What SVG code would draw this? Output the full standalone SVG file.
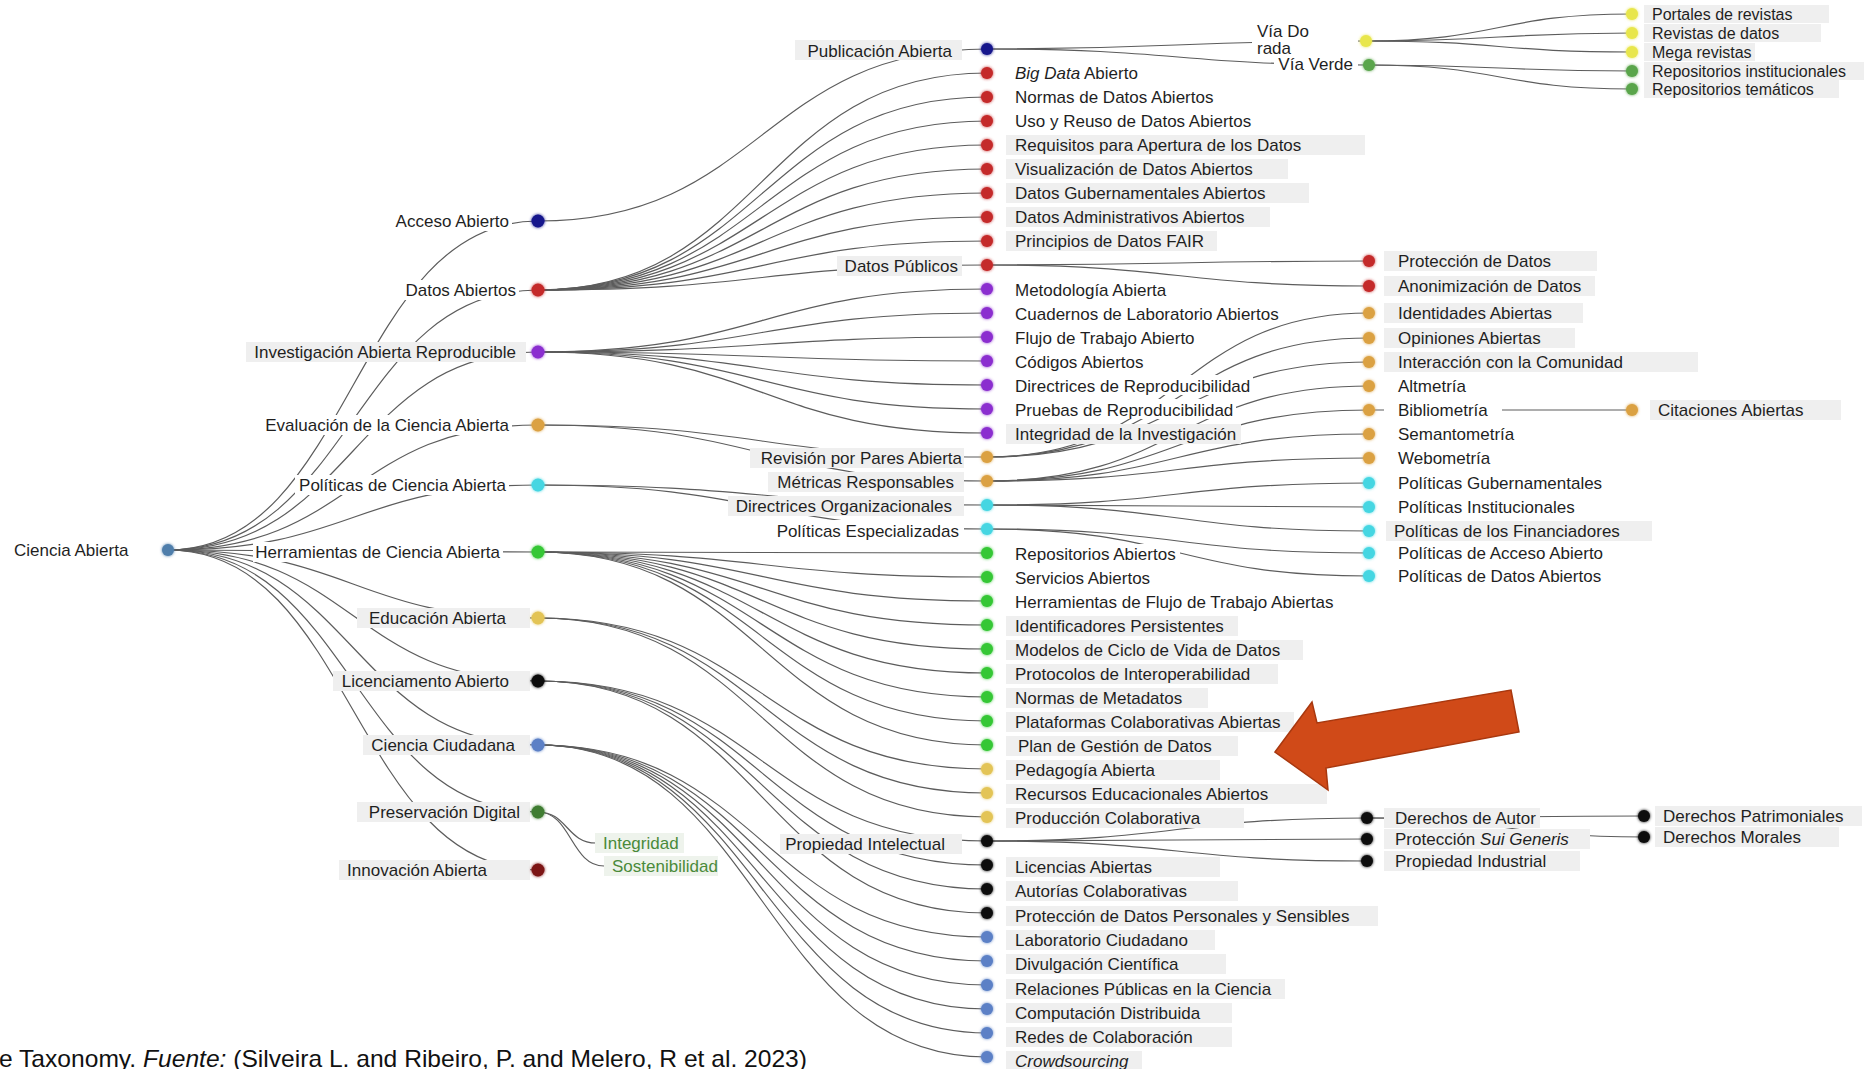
<svg xmlns="http://www.w3.org/2000/svg" width="1866" height="1069" viewBox="0 0 1866 1069">
<style>
  .lk{fill:none;stroke:#5c5c5c;stroke-width:1.2}
  .t{font-family:"Liberation Sans",Arial,Helvetica,sans-serif;font-size:17px;fill:#1f1f1f}
  .s{font-size:16px}
  .e{text-anchor:end}
  .g{fill:#4a8a3a}
  .bg{fill:#ffffff}
  .gb{fill:#efefef}
  .gg{fill:#eef3ec}
  .d{filter:url(#glow)}
  .c0{fill:#4f7eab}.cn{fill:#15168c}.cr{fill:#c42a2a}.cp{fill:#8b2fcf}.co{fill:#dba142}
  .cc{fill:#45d6e2}.cg{fill:#35c735}.cy{fill:#e3c457}.ck{fill:#0c0c0c}.cb{fill:#5b80c6}
  .cd{fill:#3f7d31}.cm{fill:#7d1515}.cv{fill:#e8e64c}.cw{fill:#5aa54c}
  .cap{font-family:"Liberation Sans",Arial,sans-serif;font-size:24px;fill:#111}
</style>
<defs>
  <filter id="glow" x="-100%" y="-100%" width="300%" height="300%">
    <feGaussianBlur in="SourceGraphic" stdDeviation="1.8" result="b"/>
    <feMerge><feMergeNode in="b"/><feMergeNode in="SourceGraphic"/></feMerge>
  </filter>
</defs>
<rect width="1866" height="1069" fill="#ffffff"/>

<!-- connectors -->
<g id="links" class="lk">
  <!-- root to first level -->
  <path d="M168,550 C353,550 353,221 538,221"/>
  <path d="M168,550 C353,550 353,290 538,290"/>
  <path d="M168,550 C353,550 353,352 538,352"/>
  <path d="M168,550 C353,550 353,425 538,425"/>
  <path d="M168,550 C353,550 353,485 538,485"/>
  <path d="M168,550 C353,550 353,552 538,552"/>
  <path d="M168,550 C353,550 353,618 538,618"/>
  <path d="M168,550 C353,550 353,681 538,681"/>
  <path d="M168,550 C353,550 353,745 538,745"/>
  <path d="M168,550 C353,550 353,812 538,812"/>
  <path d="M168,550 C353,550 353,870 538,870"/>
  <!-- first to second level -->
  <path d="M538,221 C762,221 762,49 987,49"/>
  <path d="M538,290 C762,290 762,73 987,73"/>
  <path d="M538,290 C762,290 762,97 987,97"/>
  <path d="M538,290 C762,290 762,121 987,121"/>
  <path d="M538,290 C762,290 762,145 987,145"/>
  <path d="M538,290 C762,290 762,169 987,169"/>
  <path d="M538,290 C762,290 762,193 987,193"/>
  <path d="M538,290 C762,290 762,217 987,217"/>
  <path d="M538,290 C762,290 762,241 987,241"/>
  <path d="M538,290 C762,290 762,265 987,265"/>
  <path d="M538,352 C762,352 762,289 987,289"/>
  <path d="M538,352 C762,352 762,313 987,313"/>
  <path d="M538,352 C762,352 762,337 987,337"/>
  <path d="M538,352 C762,352 762,361 987,361"/>
  <path d="M538,352 C762,352 762,385 987,385"/>
  <path d="M538,352 C762,352 762,409 987,409"/>
  <path d="M538,352 C762,352 762,433 987,433"/>
  <path d="M538,425 C762,425 762,457 987,457"/>
  <path d="M538,425 C762,425 762,481 987,481"/>
  <path d="M538,485 C762,485 762,505 987,505"/>
  <path d="M538,485 C762,485 762,529 987,529"/>
  <path d="M538,552 C762,552 762,553 987,553"/>
  <path d="M538,552 C762,552 762,577 987,577"/>
  <path d="M538,552 C762,552 762,601 987,601"/>
  <path d="M538,552 C762,552 762,625 987,625"/>
  <path d="M538,552 C762,552 762,649 987,649"/>
  <path d="M538,552 C762,552 762,673 987,673"/>
  <path d="M538,552 C762,552 762,697 987,697"/>
  <path d="M538,552 C762,552 762,721 987,721"/>
  <path d="M538,552 C762,552 762,745 987,745"/>
  <path d="M538,618 C762,618 762,769 987,769"/>
  <path d="M538,618 C762,618 762,793 987,793"/>
  <path d="M538,618 C762,618 762,817 987,817"/>
  <path d="M538,681 C762,681 762,841 987,841"/>
  <path d="M538,681 C762,681 762,865 987,865"/>
  <path d="M538,681 C762,681 762,889 987,889"/>
  <path d="M538,681 C762,681 762,913 987,913"/>
  <path d="M538,745 C762,745 762,937 987,937"/>
  <path d="M538,745 C762,745 762,961 987,961"/>
  <path d="M538,745 C762,745 762,985 987,985"/>
  <path d="M538,745 C762,745 762,1009 987,1009"/>
  <path d="M538,745 C762,745 762,1033 987,1033"/>
  <path d="M538,745 C762,745 762,1057 987,1057"/>
  <path d="M538,812 C567,812 567,843 596,843"/>
  <path d="M538,812 C571,812 571,866 604,866"/>
  <!-- second to third level -->
  <path d="M987,49 C1176,49 1176,41 1366,41"/>
  <path d="M987,49 C1178,49 1178,65 1369,65"/>
  <path d="M987,265 C1178,265 1178,261 1369,261"/>
  <path d="M987,265 C1178,265 1178,286 1369,286"/>
  <path d="M987,457 C1178,457 1178,313 1369,313"/>
  <path d="M987,457 C1178,457 1178,338 1369,338"/>
  <path d="M987,457 C1178,457 1178,362 1369,362"/>
  <path d="M987,481 C1178,481 1178,386 1369,386"/>
  <path d="M987,481 C1178,481 1178,410 1369,410"/>
  <path d="M987,481 C1178,481 1178,434 1369,434"/>
  <path d="M987,481 C1178,481 1178,458 1369,458"/>
  <path d="M987,505 C1178,505 1178,483 1369,483"/>
  <path d="M987,505 C1178,505 1178,507 1369,507"/>
  <path d="M987,505 C1178,505 1178,531 1369,531"/>
  <path d="M987,529 C1178,529 1178,553 1369,553"/>
  <path d="M987,529 C1178,529 1178,576 1369,576"/>
  <path d="M987,841 C1177,841 1177,818 1367,818"/>
  <path d="M987,841 C1177,841 1177,839 1367,839"/>
  <path d="M987,841 C1177,841 1177,861 1367,861"/>
  <!-- third to fourth level -->
  <path d="M1366,41 C1499,41 1499,14 1632,14"/>
  <path d="M1366,41 C1499,41 1499,33 1632,33"/>
  <path d="M1366,41 C1499,41 1499,52 1632,52"/>
  <path d="M1369,65 C1500,65 1500,71 1632,71"/>
  <path d="M1369,65 C1500,65 1500,89 1632,89"/>
  <path d="M1369,410 L1632,410"/>
  <path d="M1367,818 C1505,818 1505,816 1644,816"/>
  <path d="M1367,818 C1505,818 1505,837 1644,837"/>
</g>

<!-- root -->
<g id="n-ciencia-abierta"><text class="t" x="14" y="556">Ciencia Abierta</text><circle class="d c0" cx="168" cy="550" r="6"/></g>

<!-- first level -->
<g id="n-acceso-abierto"><rect class="bg" x="392" y="211" width="120" height="20"/><text class="t e" x="509" y="227">Acceso Abierto</text><circle class="d cn" cx="538" cy="221" r="6.5"/></g>
<g id="n-datos-abiertos"><rect class="bg" x="403" y="280" width="116" height="20"/><text class="t e" x="516" y="296">Datos Abiertos</text><circle class="d cr" cx="538" cy="290" r="6.5"/></g>
<g id="n-investigacion"><rect class="gb" x="246" y="342" width="280" height="20"/><text class="t e" x="516" y="358">Investigación Abierta Reproducible</text><circle class="d cp" cx="538" cy="352" r="6.5"/></g>
<g id="n-evaluacion"><rect class="bg" x="262" y="415" width="250" height="20"/><text class="t e" x="509" y="431">Evaluación de la Ciencia Abierta</text><circle class="d co" cx="538" cy="425" r="6.5"/></g>
<g id="n-politicas"><rect class="bg" x="295" y="475" width="214" height="20"/><text class="t e" x="506" y="491">Políticas de Ciencia Abierta</text><circle class="d cc" cx="538" cy="485" r="6.5"/></g>
<g id="n-herramientas"><rect class="bg" x="253" y="542" width="250" height="20"/><text class="t e" x="500" y="558">Herramientas de Ciencia Abierta</text><circle class="d cg" cx="538" cy="552" r="6.5"/></g>
<g id="n-educacion"><rect class="gb" x="357" y="608" width="173" height="20"/><text class="t e" x="506" y="624">Educación Abierta</text><circle class="d cy" cx="538" cy="618" r="6.5"/></g>
<g id="n-licenciamento"><rect class="gb" x="333" y="671" width="197" height="20"/><text class="t e" x="509" y="687">Licenciamento Abierto</text><circle class="d ck" cx="538" cy="681" r="6.5"/></g>
<g id="n-ciencia-ciudadana"><rect class="gb" x="363" y="735" width="167" height="20"/><text class="t e" x="515" y="751">Ciencia Ciudadana</text><circle class="d cb" cx="538" cy="745" r="6.5"/></g>
<g id="n-preservacion"><rect class="gb" x="357" y="802" width="173" height="20"/><text class="t e" x="520" y="818">Preservación Digital</text><circle class="d cd" cx="538" cy="812" r="6.5"/></g>
<g id="n-innovacion"><rect class="gb" x="339" y="860" width="191" height="20"/><text class="t e" x="487" y="876">Innovación Abierta</text><circle class="d cm" cx="538" cy="870" r="6.5"/></g>

<!-- preservation leaves -->
<g id="n-integridad"><rect class="gg" x="595" y="833" width="89" height="20"/><text class="t g" x="603" y="849">Integridad</text></g>
<g id="n-sostenibilidad"><rect class="gg" x="604" y="856" width="114" height="20"/><text class="t g" x="612" y="872">Sostenibilidad</text></g>

<!-- second level -->
<g id="n-publicacion-abierta"><rect class="gb" x="795" y="40" width="167" height="20"/><text class="t e" x="952" y="57">Publicación Abierta</text><circle class="d cn" cx="987" cy="49" r="6"/></g>
<g id="n-big-data"><rect class="bg" x="1006" y="63" width="136" height="20"/><text class="t" x="1015" y="79"><tspan font-style="italic">Big Data</tspan> Abierto</text><circle class="d cr" cx="987" cy="73" r="6"/></g>
<g id="n-normas-datos"><rect class="bg" x="1006" y="87" width="211" height="20"/><text class="t" x="1015" y="103">Normas de Datos Abiertos</text><circle class="d cr" cx="987" cy="97" r="6"/></g>
<g id="n-uso-reuso"><rect class="bg" x="1006" y="111" width="249" height="20"/><text class="t" x="1015" y="127">Uso y Reuso de Datos Abiertos</text><circle class="d cr" cx="987" cy="121" r="6"/></g>
<g id="n-requisitos"><rect class="gb" x="1006" y="135" width="359" height="20"/><text class="t" x="1015" y="151">Requisitos para Apertura de los Datos</text><circle class="d cr" cx="987" cy="145" r="6"/></g>
<g id="n-visualizacion"><rect class="gb" x="1006" y="159" width="282" height="20"/><text class="t" x="1015" y="175">Visualización de Datos Abiertos</text><circle class="d cr" cx="987" cy="169" r="6"/></g>
<g id="n-gubernamentales"><rect class="gb" x="1006" y="183" width="303" height="20"/><text class="t" x="1015" y="199">Datos Gubernamentales Abiertos</text><circle class="d cr" cx="987" cy="193" r="6"/></g>
<g id="n-administrativos"><rect class="gb" x="1006" y="207" width="264" height="20"/><text class="t" x="1015" y="223">Datos Administrativos Abiertos</text><circle class="d cr" cx="987" cy="217" r="6"/></g>
<g id="n-fair"><rect class="gb" x="1006" y="231" width="211" height="20"/><text class="t" x="1015" y="247">Principios de Datos FAIR</text><circle class="d cr" cx="987" cy="241" r="6"/></g>
<g id="n-datos-publicos"><rect class="gb" x="837" y="256" width="125" height="20"/><text class="t e" x="958" y="272">Datos Públicos</text><circle class="d cr" cx="987" cy="265" r="6"/></g>
<g id="n-metodologia"><rect class="bg" x="1006" y="279" width="164" height="20"/><text class="t" x="1015" y="296">Metodología Abierta</text><circle class="d cp" cx="987" cy="289" r="6"/></g>
<g id="n-cuadernos"><rect class="bg" x="1006" y="303" width="276" height="20"/><text class="t" x="1015" y="320">Cuadernos de Laboratorio Abiertos</text><circle class="d cp" cx="987" cy="313" r="6"/></g>
<g id="n-flujo"><rect class="bg" x="1006" y="327" width="194" height="20"/><text class="t" x="1015" y="344">Flujo de Trabajo Abierto</text><circle class="d cp" cx="987" cy="337" r="6"/></g>
<g id="n-codigos"><rect class="bg" x="1006" y="351" width="142" height="20"/><text class="t" x="1015" y="368">Códigos Abiertos</text><circle class="d cp" cx="987" cy="361" r="6"/></g>
<g id="n-directrices-rep"><rect class="bg" x="1006" y="375" width="247" height="20"/><text class="t" x="1015" y="392">Directrices de Reproducibilidad</text><circle class="d cp" cx="987" cy="385" r="6"/></g>
<g id="n-pruebas"><rect class="bg" x="1006" y="399" width="230" height="20"/><text class="t" x="1015" y="416">Pruebas de Reproducibilidad</text><circle class="d cp" cx="987" cy="409" r="6"/></g>
<g id="n-integridad-inv"><rect class="gb" x="1006" y="424" width="235" height="20"/><text class="t" x="1015" y="440">Integridad de la Investigación</text><circle class="d cp" cx="987" cy="433" r="6"/></g>
<g id="n-revision-pares"><rect class="gb" x="750" y="448" width="214" height="20"/><text class="t e" x="962" y="464">Revisión por Pares Abierta</text><circle class="d co" cx="987" cy="457" r="6"/></g>
<g id="n-metricas"><rect class="gb" x="768" y="472" width="196" height="20"/><text class="t e" x="954" y="488">Métricas Responsables</text><circle class="d co" cx="987" cy="481" r="6"/></g>
<g id="n-directrices-org"><rect class="gb" x="728" y="496" width="236" height="20"/><text class="t e" x="952" y="512">Directrices Organizacionales</text><circle class="d cc" cx="987" cy="505" r="6"/></g>
<g id="n-politicas-esp"><rect class="bg" x="775" y="520" width="189" height="20"/><text class="t e" x="959" y="537">Políticas Especializadas</text><circle class="d cc" cx="987" cy="529" r="6"/></g>
<g id="n-repositorios"><rect class="bg" x="1006" y="544" width="174" height="20"/><text class="t" x="1015" y="560">Repositorios Abiertos</text><circle class="d cg" cx="987" cy="553" r="6"/></g>
<g id="n-servicios"><rect class="bg" x="1006" y="568" width="148" height="20"/><text class="t" x="1015" y="584">Servicios Abiertos</text><circle class="d cg" cx="987" cy="577" r="6"/></g>
<g id="n-herr-flujo"><rect class="bg" x="1006" y="592" width="331" height="20"/><text class="t" x="1015" y="608">Herramientas de Flujo de Trabajo Abiertas</text><circle class="d cg" cx="987" cy="601" r="6"/></g>
<g id="n-identificadores"><rect class="gb" x="1006" y="616" width="232" height="20"/><text class="t" x="1015" y="632">Identificadores Persistentes</text><circle class="d cg" cx="987" cy="625" r="6"/></g>
<g id="n-modelos"><rect class="gb" x="1006" y="640" width="297" height="20"/><text class="t" x="1015" y="656">Modelos de Ciclo de Vida de Datos</text><circle class="d cg" cx="987" cy="649" r="6"/></g>
<g id="n-protocolos"><rect class="gb" x="1006" y="664" width="272" height="20"/><text class="t" x="1015" y="680">Protocolos de Interoperabilidad</text><circle class="d cg" cx="987" cy="673" r="6"/></g>
<g id="n-normas-metadatos"><rect class="gb" x="1006" y="688" width="202" height="20"/><text class="t" x="1015" y="704">Normas de Metadatos</text><circle class="d cg" cx="987" cy="697" r="6"/></g>
<g id="n-plataformas"><rect class="gb" x="1006" y="712" width="288" height="20"/><text class="t" x="1015" y="728">Plataformas Colaborativas Abiertas</text><circle class="d cg" cx="987" cy="721" r="6"/></g>
<g id="n-plan-gestion"><rect class="gb" x="1006" y="736" width="232" height="20"/><text class="t" x="1018" y="752">Plan de Gestión de Datos</text><circle class="d cg" cx="987" cy="745" r="6"/></g>
<g id="n-pedagogia"><rect class="gb" x="1006" y="760" width="214" height="20"/><text class="t" x="1015" y="776">Pedagogía Abierta</text><circle class="d cy" cx="987" cy="769" r="6"/></g>
<g id="n-recursos"><rect class="gb" x="1006" y="784" width="321" height="20"/><text class="t" x="1015" y="800">Recursos Educacionales Abiertos</text><circle class="d cy" cx="987" cy="793" r="6"/></g>
<g id="n-produccion"><rect class="gb" x="1006" y="808" width="238" height="20"/><text class="t" x="1015" y="824">Producción Colaborativa</text><circle class="d cy" cx="987" cy="817" r="6"/></g>
<g id="n-propiedad-int"><rect class="gb" x="780" y="834" width="182" height="20"/><text class="t e" x="945" y="850">Propiedad Intelectual</text><circle class="d ck" cx="987" cy="841" r="6"/></g>
<g id="n-licencias"><rect class="gb" x="1006" y="857" width="214" height="20"/><text class="t" x="1015" y="873">Licencias Abiertas</text><circle class="d ck" cx="987" cy="865" r="6"/></g>
<g id="n-autorias"><rect class="gb" x="1006" y="881" width="232" height="20"/><text class="t" x="1015" y="897">Autorías Colaborativas</text><circle class="d ck" cx="987" cy="889" r="6"/></g>
<g id="n-proteccion-personales"><rect class="gb" x="1006" y="906" width="372" height="20"/><text class="t" x="1015" y="922">Protección de Datos Personales y Sensibles</text><circle class="d ck" cx="987" cy="913" r="6"/></g>
<g id="n-laboratorio"><rect class="gb" x="1006" y="930" width="209" height="20"/><text class="t" x="1015" y="946">Laboratorio Ciudadano</text><circle class="d cb" cx="987" cy="937" r="6"/></g>
<g id="n-divulgacion"><rect class="gb" x="1006" y="954" width="220" height="20"/><text class="t" x="1015" y="970">Divulgación Científica</text><circle class="d cb" cx="987" cy="961" r="6"/></g>
<g id="n-relaciones"><rect class="gb" x="1006" y="979" width="279" height="20"/><text class="t" x="1015" y="995">Relaciones Públicas en la Ciencia</text><circle class="d cb" cx="987" cy="985" r="6"/></g>
<g id="n-computacion"><rect class="gb" x="1006" y="1003" width="226" height="20"/><text class="t" x="1015" y="1019">Computación Distribuida</text><circle class="d cb" cx="987" cy="1009" r="6"/></g>
<g id="n-redes"><rect class="gb" x="1006" y="1027" width="226" height="20"/><text class="t" x="1015" y="1043">Redes de Colaboración</text><circle class="d cb" cx="987" cy="1033" r="6"/></g>
<g id="n-crowdsourcing"><rect class="gb" x="1006" y="1051" width="136" height="20"/><text class="t" x="1015" y="1067" font-style="italic">Crowdsourcing</text><circle class="d cb" cx="987" cy="1057" r="6"/></g>

<!-- third level -->
<g id="n-via-dorada"><rect class="bg" x="1252" y="21" width="106" height="36"/><text class="t" x="1257" y="37">Vía Do</text><text class="t" x="1257" y="54">rada</text><circle class="d cv" cx="1366" cy="41" r="6"/></g>
<g id="n-via-verde"><rect class="bg" x="1274" y="57" width="84" height="17"/><text class="t e" x="1353" y="70">Vía Verde</text><circle class="d cw" cx="1369" cy="65" r="6"/></g>
<g id="n-proteccion-datos"><rect class="gb" x="1384" y="251" width="213" height="20"/><text class="t" x="1398" y="267">Protección de Datos</text><circle class="d cr" cx="1369" cy="261" r="6"/></g>
<g id="n-anonimizacion"><rect class="gb" x="1384" y="276" width="211" height="20"/><text class="t" x="1398" y="292">Anonimización de Datos</text><circle class="d cr" cx="1369" cy="286" r="6"/></g>
<g id="n-identidades"><rect class="gb" x="1384" y="303" width="199" height="20"/><text class="t" x="1398" y="319">Identidades Abiertas</text><circle class="d co" cx="1369" cy="313" r="6"/></g>
<g id="n-opiniones"><rect class="gb" x="1384" y="328" width="191" height="20"/><text class="t" x="1398" y="344">Opiniones Abiertas</text><circle class="d co" cx="1369" cy="338" r="6"/></g>
<g id="n-interaccion"><rect class="gb" x="1384" y="352" width="314" height="20"/><text class="t" x="1398" y="368">Interacción con la Comunidad</text><circle class="d co" cx="1369" cy="362" r="6"/></g>
<g id="n-altmetria"><rect class="bg" x="1384" y="376" width="84" height="20"/><text class="t" x="1398" y="392">Altmetría</text><circle class="d co" cx="1369" cy="386" r="6"/></g>
<g id="n-bibliometria"><rect class="bg" x="1384" y="400" width="118" height="20"/><text class="t" x="1398" y="416">Bibliometría</text><circle class="d co" cx="1369" cy="410" r="6"/></g>
<g id="n-semantometria"><rect class="bg" x="1384" y="424" width="133" height="20"/><text class="t" x="1398" y="440">Semantometría</text><circle class="d co" cx="1369" cy="434" r="6"/></g>
<g id="n-webometria"><rect class="bg" x="1384" y="448" width="109" height="20"/><text class="t" x="1398" y="464">Webometría</text><circle class="d co" cx="1369" cy="458" r="6"/></g>
<g id="n-pol-gubernamentales"><rect class="bg" x="1384" y="473" width="221" height="20"/><text class="t" x="1398" y="489">Políticas Gubernamentales</text><circle class="d cc" cx="1369" cy="483" r="6"/></g>
<g id="n-pol-institucionales"><rect class="bg" x="1384" y="497" width="192" height="20"/><text class="t" x="1398" y="513">Políticas Institucionales</text><circle class="d cc" cx="1369" cy="507" r="6"/></g>
<g id="n-pol-financiadores"><rect class="gb" x="1386" y="521" width="266" height="20"/><text class="t" x="1394" y="537">Políticas de los Financiadores</text><circle class="d cc" cx="1369" cy="531" r="6"/></g>
<g id="n-pol-acceso"><rect class="bg" x="1384" y="543" width="223" height="20"/><text class="t" x="1398" y="559">Políticas de Acceso Abierto</text><circle class="d cc" cx="1369" cy="553" r="6"/></g>
<g id="n-pol-datos"><rect class="bg" x="1384" y="566" width="186" height="20"/><text class="t" x="1398" y="582">Políticas de Datos Abiertos</text><circle class="d cc" cx="1369" cy="576" r="6"/></g>
<g id="n-derechos-autor"><rect class="gb" x="1384" y="808" width="156" height="20"/><text class="t" x="1395" y="824">Derechos de Autor</text><circle class="d ck" cx="1367" cy="818" r="6"/></g>
<g id="n-sui-generis"><rect class="gb" x="1384" y="829" width="206" height="20"/><text class="t" x="1395" y="845">Protección <tspan font-style="italic">Sui Generis</tspan></text><circle class="d ck" cx="1367" cy="839" r="6"/></g>
<g id="n-propiedad-industrial"><rect class="gb" x="1384" y="851" width="196" height="20"/><text class="t" x="1395" y="867">Propiedad Industrial</text><circle class="d ck" cx="1367" cy="861" r="6"/></g>

<!-- fourth level -->
<g id="n-portales"><rect class="gb" x="1644" y="5" width="185" height="18"/><text class="t s" x="1652" y="20">Portales de revistas</text><circle class="d cv" cx="1632" cy="14" r="6"/></g>
<g id="n-revistas-datos"><rect class="gb" x="1644" y="24" width="177" height="18"/><text class="t s" x="1652" y="39">Revistas de datos</text><circle class="d cv" cx="1632" cy="33" r="6"/></g>
<g id="n-mega-revistas"><rect class="gb" x="1644" y="43" width="111" height="18"/><text class="t s" x="1652" y="58">Mega revistas</text><circle class="d cv" cx="1632" cy="52" r="6"/></g>
<g id="n-repo-institucionales"><rect class="gb" x="1644" y="62" width="220" height="18"/><text class="t s" x="1652" y="77">Repositorios institucionales</text><circle class="d cw" cx="1632" cy="71" r="6"/></g>
<g id="n-repo-tematicos"><rect class="gb" x="1644" y="80" width="195" height="18"/><text class="t s" x="1652" y="95">Repositorios temáticos</text><circle class="d cw" cx="1632" cy="89" r="6"/></g>
<g id="n-citaciones"><rect class="gb" x="1650" y="400" width="191" height="20"/><text class="t" x="1658" y="416">Citaciones Abiertas</text><circle class="d co" cx="1632" cy="410" r="6"/></g>
<g id="n-patrimoniales"><rect class="gb" x="1655" y="806" width="207" height="20"/><text class="t" x="1663" y="822">Derechos Patrimoniales</text><circle class="d ck" cx="1644" cy="816" r="6"/></g>
<g id="n-morales"><rect class="gb" x="1655" y="827" width="184" height="20"/><text class="t" x="1663" y="843">Derechos Morales</text><circle class="d ck" cx="1644" cy="837" r="6"/></g>

<!-- highlight arrow -->
<polygon id="arrow" points="1275,752 1312,702 1317,723 1511,690 1519,732 1326,768 1328,790" fill="#d04a18" stroke="#a8380f" stroke-width="1.5" stroke-linejoin="miter"/>

<!-- caption -->
<text class="cap" x="-1" y="1067" textLength="808" lengthAdjust="spacingAndGlyphs">e Taxonomy. <tspan font-style="italic">Fuente:</tspan> (Silveira L. and Ribeiro, P. and Melero, R et al. 2023)</text>
</svg>
